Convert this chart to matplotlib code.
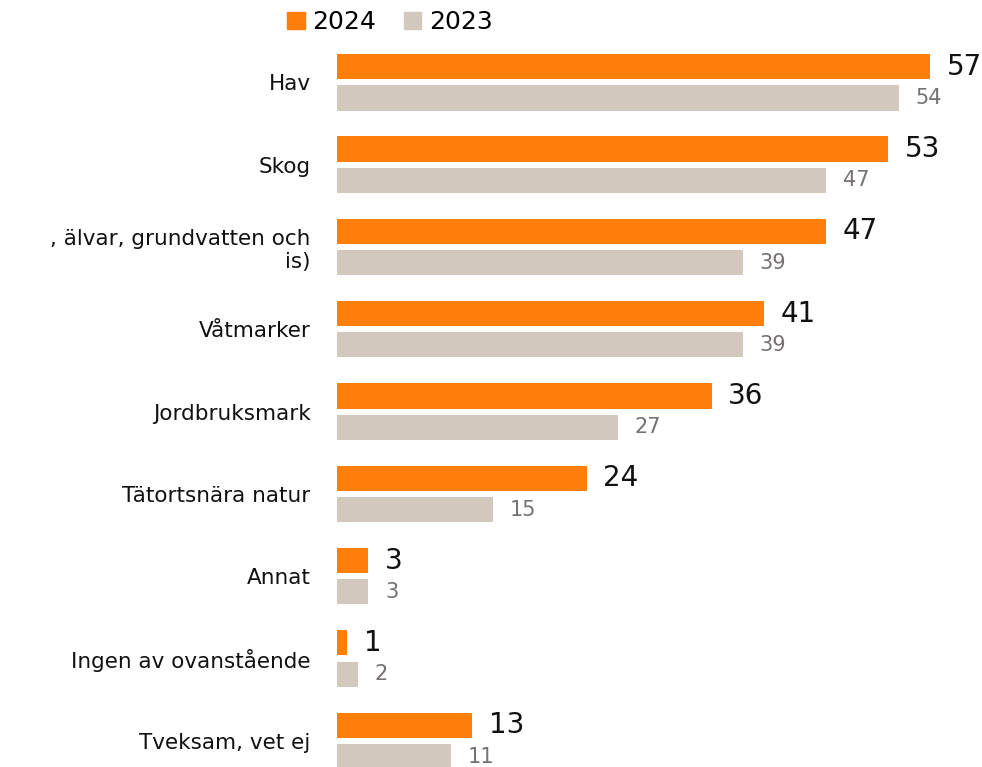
import numpy as np
import matplotlib
matplotlib.use("Agg")
import matplotlib.pyplot as plt
from matplotlib.patches import Patch

categories = [
    "Hav",
    "Skog",
    ", älvar, grundvatten och\nis)",
    "Våtmarker",
    "Jordbruksmark",
    "Tätortsnära natur",
    "Annat",
    "Ingen av ovanstående",
    "Tveksam, vet ej",
]
values_2024 = [57, 53, 47, 41, 36, 24, 3, 1, 13]
values_2023 = [54, 47, 39, 39, 27, 15, 3, 2, 11]
series_names = ["2024", "2023"]

orange = "#FF7F0A"
beige = "#D3C8BE"

plt.rcParams["font.family"] = ["DejaVu Sans"]

fig = plt.figure(figsize=(9.82, 7.67), dpi=100)
ax = fig.add_axes([337 / 982, 0.0, 1 - 337 / 982, 1.0])

y = np.arange(len(categories))
off = 0.19
h = 0.305

bars_a = ax.barh(y - off, values_2024, height=h, color=orange)
bars_b = ax.barh(y + off, values_2023, height=h, color=beige)

for b, v in zip(bars_a, values_2024):
    ax.annotate(str(v), (b.get_width(), b.get_y() + b.get_height() / 2),
                xytext=(12, 0), textcoords="offset points",
                ha="left", va="center", fontsize=20, color="#111111")
for b, v in zip(bars_b, values_2023):
    ax.annotate(str(v), (b.get_width(), b.get_y() + b.get_height() / 2),
                xytext=(12, 0), textcoords="offset points",
                ha="left", va="center", fontsize=15, color="#767171")

ax.set_xlim(0, 62)
ax.set_ylim(8.317, -1.0)
ax.set_yticks(y)
ax.set_yticklabels(categories, fontsize=15.5, color="#111111", multialignment="right")
ax.tick_params(axis="y", length=0, pad=19)
ax.set_xticks([])
for s in ax.spines.values():
    s.set_visible(False)

handles = [Patch(color=orange), Patch(color=beige)]
fig.legend(handles, series_names, loc="center", bbox_to_anchor=(390 / 982, 1 - 22 / 767),
           ncol=2, frameon=False, fontsize=18, handlelength=0.7, handleheight=0.7,
           handletextpad=0.3, columnspacing=1.1, borderaxespad=0)

fig.savefig("out.png", dpi=100)
